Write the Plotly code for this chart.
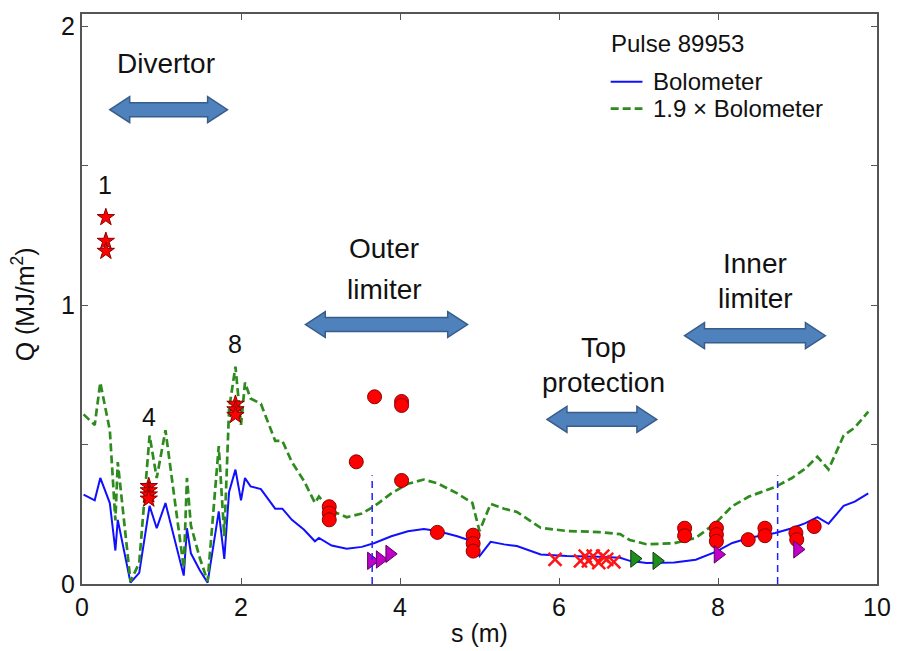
import plotly.graph_objects as go

# ---------------- data ----------------
s_bolo = [0.02, 0.16, 0.23, 0.35, 0.42, 0.45, 0.61, 0.72, 0.85, 0.94, 1.05, 1.28, 1.32, 1.37,
          1.48, 1.58, 1.72, 1.79, 1.85, 1.93, 2.0, 2.05, 2.12, 2.25, 2.43, 2.52, 2.64, 2.79,
          2.93, 2.98, 3.14, 3.33, 3.52, 3.68, 3.89, 4.1, 4.3, 4.47, 4.72, 4.91, 5.0, 5.14,
          5.31, 5.47, 5.77, 6.1, 6.5, 6.77, 6.89, 7.1, 7.45, 7.72, 7.97, 8.18, 8.39, 8.72,
          8.93, 9.1, 9.25, 9.39, 9.58, 9.72, 9.89]
q_bolo = [0.32, 0.30, 0.38, 0.29, 0.12, 0.23, 0.005, 0.04, 0.28, 0.20, 0.29, 0.03, 0.20, 0.11,
          0.05, 0.005, 0.26, 0.09, 0.33, 0.41, 0.30, 0.38, 0.35, 0.34, 0.27, 0.27, 0.23, 0.195,
          0.153, 0.165, 0.138, 0.126, 0.133, 0.147, 0.171, 0.189, 0.197, 0.19, 0.171, 0.153, 0.10, 0.151,
          0.142, 0.136, 0.106, 0.10, 0.098, 0.094, 0.083, 0.075, 0.077, 0.087, 0.115, 0.147, 0.165, 0.183,
          0.20, 0.218, 0.24, 0.216, 0.28, 0.295, 0.325]
bolo_factor = 1.9

star_s = [0.3, 0.3, 0.3, 0.84, 0.84, 0.84, 0.84, 1.93, 1.93, 1.93]
star_q = [1.314, 1.229, 1.193, 0.35, 0.335, 0.32, 0.305, 0.645, 0.625, 0.605]

circ_s = [3.11, 3.11, 3.11, 3.45, 3.68, 4.02, 4.02, 4.02, 4.47, 4.92, 4.92, 4.92,
          7.58, 7.58, 7.98, 7.98, 7.98, 8.38, 8.59, 8.59, 8.98, 8.99, 9.21]
circ_q = [0.277, 0.254, 0.23, 0.438, 0.671, 0.654, 0.64, 0.371, 0.185, 0.175, 0.145, 0.118,
          0.20, 0.173, 0.20, 0.177, 0.153, 0.159, 0.20, 0.173, 0.183, 0.159, 0.206]

cross_s = [5.95, 6.27, 6.33, 6.37, 6.43, 6.5, 6.55, 6.6, 6.69]
cross_q = [0.088, 0.083, 0.1, 0.083, 0.1, 0.077, 0.1, 0.088, 0.079]

gtri_s = [6.95, 7.23]
gtri_q = [0.091, 0.083]

mtri_s = [3.64, 3.75, 3.87, 8.0, 9.0]
mtri_q = [0.083, 0.088, 0.108, 0.106, 0.124]

vline_s = [3.65, 8.75]
vline_top = 0.39

tile_labels = ["1", "4", "8"]
tile_label_s = [0.29, 0.84, 1.93]
tile_label_q = [1.43, 0.60, 0.86]

region_lines = [["Divertor"], ["Outer", "limiter"], ["Top", "protection"], ["Inner", "limiter"]]
region_text_s = [1.06, 3.8, 6.56, 8.47]
region_text_q = [[1.864], [1.204, 1.057], [0.846, 0.721], [1.15, 1.025]]
arrow_x0 = [0.35, 2.81, 5.85, 7.58]
arrow_x1 = [1.83, 4.85, 7.23, 9.35]
arrow_q = [1.70, 0.93, 0.59, 0.89]

legend_title = "Pulse 89953"
legend_names = ["Bolometer", "1.9 × Bolometer"]
x_title = "s (m)"
y_title = "Q (MJ/m<sup>2</sup>)"

x_range = [0, 10]
y_range = [0, 2.043]
x_ticks = [0, 2, 4, 6, 8, 10]
y_ticks = [0, 1, 2]
y_minor_step = 0.5

# ---------------- layout geometry ----------------
W, H = 903, 651
ML, MR, MT, MB = 82, 21, 12, 67
PW, PH = W - ML - MR, H - MT - MB
px_per_x = PW / (x_range[1] - x_range[0])
px_per_y = PH / (y_range[1] - y_range[0])


def paper_x(px):
    return (px - ML) / PW


def paper_y(py):
    return (H - MB - py) / PH


FONT = "Liberation Sans, Arial, sans-serif"
BLUE = "#1010FF"
GREEN = "#2E8B1E"
GREEN_DASH = "8px,4px"
TXT = "#111"

fig = go.Figure()

fig.add_trace(go.Scatter(x=s_bolo, y=q_bolo, mode="lines", name=legend_names[0], showlegend=False,
                         line=dict(color=BLUE, width=2)))
fig.add_trace(go.Scatter(x=s_bolo, y=[bolo_factor * v for v in q_bolo], mode="lines",
                         name=legend_names[1], showlegend=False,
                         line=dict(color=GREEN, width=2.7, dash=GREEN_DASH)))

fig.add_trace(go.Scatter(x=star_s, y=star_q, mode="markers", showlegend=False,
                         marker=dict(symbol="star", size=13, color="#FF0000",
                                     line=dict(color="#8B0000", width=1))))
fig.add_trace(go.Scatter(x=circ_s, y=circ_q, mode="markers", showlegend=False,
                         marker=dict(symbol="circle", size=14, color="#FF0000",
                                     line=dict(color="#8B0000", width=1))))
fig.add_trace(go.Scatter(x=cross_s, y=cross_q, mode="markers", showlegend=False,
                         marker=dict(symbol="x-thin", size=13, color="#FF0000",
                                     line=dict(color="#FF1515", width=2.5))))
fig.add_trace(go.Scatter(x=gtri_s, y=gtri_q, mode="markers", showlegend=False,
                         marker=dict(symbol="triangle-right", size=15, color="#1E8C1E",
                                     line=dict(color="#0B3D0B", width=1))))
fig.add_trace(go.Scatter(x=mtri_s, y=mtri_q, mode="markers", showlegend=False,
                         marker=dict(symbol="triangle-right", size=15, color="#C000C8",
                                     line=dict(color="#5A005A", width=1))))

shapes = []
for xs in vline_s:
    shapes.append(dict(type="line", xref="x", yref="y", x0=xs, x1=xs, y0=0, y1=vline_top,
                       line=dict(color="#2020FF", width=1.5, dash="7px,5px")))

head_len = 20 / px_per_x
head_half = 13 / px_per_y
shaft_half = 7 / px_per_y
for x0, x1, yc in zip(arrow_x0, arrow_x1, arrow_q):
    pts = [(x0, yc), (x0 + head_len, yc + head_half), (x0 + head_len, yc + shaft_half),
           (x1 - head_len, yc + shaft_half), (x1 - head_len, yc + head_half), (x1, yc),
           (x1 - head_len, yc - head_half), (x1 - head_len, yc - shaft_half),
           (x0 + head_len, yc - shaft_half), (x0 + head_len, yc - head_half)]
    path = "M " + " L ".join(f"{px},{py}" for px, py in pts) + " Z"
    shapes.append(dict(type="path", xref="x", yref="y", path=path,
                       fillcolor="#4F81BD", line=dict(color="#385D8A", width=1.5)))

annotations = []
for t, xs, ys in zip(tile_labels, tile_label_s, tile_label_q):
    annotations.append(dict(x=xs, y=ys, xref="x", yref="y", text=t, showarrow=False,
                            font=dict(family=FONT, size=25, color=TXT)))
for lines, xs, ys in zip(region_lines, region_text_s, region_text_q):
    for line, yv in zip(lines, ys):
        annotations.append(dict(x=xs, y=yv, xref="x", yref="y", text=line, showarrow=False,
                                font=dict(family=FONT, size=28, color=TXT)))

# manual legend (title + two entries)
annotations.append(dict(x=paper_x(612), y=paper_y(42), xref="paper", yref="paper",
                        xanchor="left", yanchor="middle", text=legend_title, showarrow=False,
                        font=dict(family=FONT, size=24, color=TXT)))
legend_rows = [80, 107]
legend_styles = [dict(color=BLUE, width=2), dict(color=GREEN, width=2.7, dash=GREEN_DASH)]
for name, row, st in zip(legend_names, legend_rows, legend_styles):
    shapes.append(dict(type="line", xref="paper", yref="paper", x0=paper_x(614), x1=paper_x(646),
                       y0=paper_y(row), y1=paper_y(row), line=st))
    annotations.append(dict(x=paper_x(655), y=paper_y(row), xref="paper", yref="paper",
                            xanchor="left", yanchor="middle", text=name, showarrow=False,
                            font=dict(family=FONT, size=24, color=TXT)))

# axis titles as annotations for exact placement
annotations.append(dict(x=paper_x(482), y=paper_y(633), xref="paper", yref="paper",
                        xanchor="center", yanchor="middle", text=x_title, showarrow=False,
                        font=dict(family=FONT, size=25, color=TXT)))
annotations.append(dict(x=paper_x(23), y=paper_y(303), xref="paper", yref="paper",
                        xanchor="center", yanchor="middle", text=y_title, showarrow=False,
                        textangle=-90, font=dict(family=FONT, size=25, color=TXT)))

axis_common = dict(showgrid=False, zeroline=False, showline=True, linecolor="#555",
                   linewidth=2, mirror="ticks", ticks="inside", ticklen=6, tickcolor="#555",
                   tickwidth=1, tickfont=dict(family=FONT, size=25, color=TXT))

fig.update_layout(
    width=W, height=H,
    margin=dict(l=ML, r=MR, t=MT, b=MB),
    paper_bgcolor="white", plot_bgcolor="white",
    showlegend=False,
    shapes=shapes, annotations=annotations,
    xaxis=dict(range=x_range, tickvals=x_ticks, **axis_common),
    yaxis=dict(range=y_range, tickvals=y_ticks,
               minor=dict(dtick=y_minor_step, ticks="inside", ticklen=6, tickcolor="#555",
                          showgrid=False),
               **axis_common),
)

fig.write_html("out.html")
